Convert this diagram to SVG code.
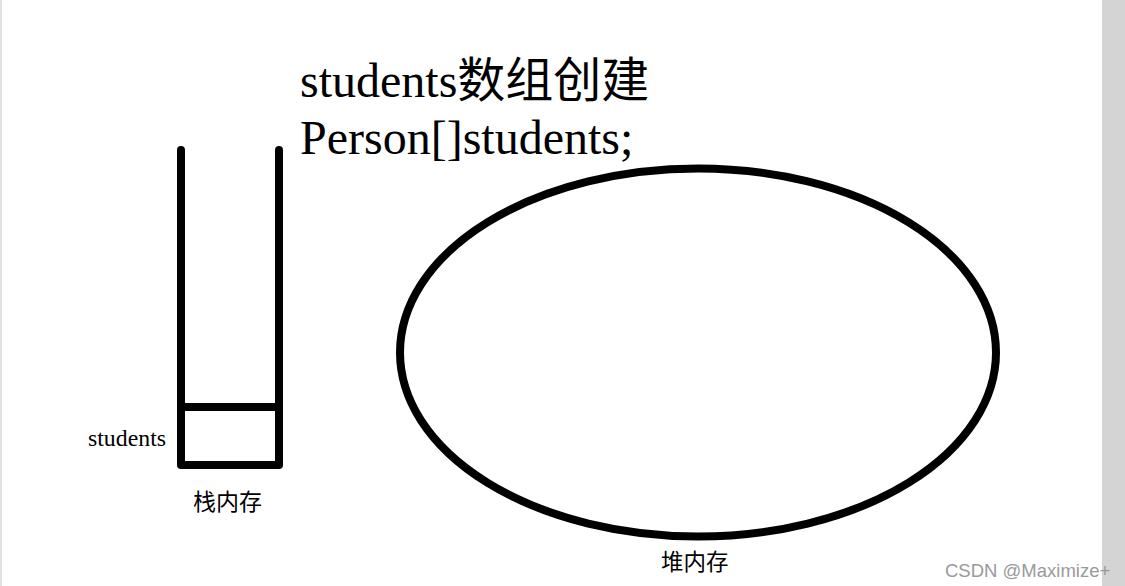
<svg xmlns="http://www.w3.org/2000/svg" width="1125" height="586" viewBox="0 0 1125 586">
<style>
.serif{font-family:"Liberation Serif","Noto Sans CJK SC",serif;fill:#000}
.cjk{font-family:"Liberation Serif","Noto Sans CJK SC",serif;fill:#000}
.thick{fill:none;stroke:#000;stroke-width:8;stroke-linecap:round;stroke-linejoin:round}
</style>
<rect x="0" y="0" width="1125" height="586" fill="#fff"/>
<rect x="0" y="0" width="2" height="586" fill="#e2e2e2"/>
<rect x="1102" y="0" width="23" height="586" fill="#d4d4d4"/>
<g id="title">
<text class="serif" x="300" y="97" font-size="48">students数组创建</text>
<text class="serif" x="300" y="154" font-size="48">Person[]students;</text>
</g>
<g id="stack">
<path class="thick" d="M181,150 L181,465 L279,465 L279,150"/>
<line class="thick" x1="181" y1="407" x2="279" y2="407" stroke-linecap="butt"/>
<text class="serif" x="88" y="446" font-size="23.8">students</text>
<text class="cjk" x="193" y="510" font-size="23">栈内存</text>
</g>
<g id="heap">
<ellipse class="thick" cx="698" cy="352.5" rx="298" ry="184"/>
<text class="cjk" x="661" y="570" font-size="22.5">堆内存</text>
</g>
<g id="connectors"></g>
<text x="945" y="577" font-family="Liberation Sans,Arial,sans-serif" font-size="18.5" fill="#9a9a9a">CSDN @Maximize+</text>
</svg>
